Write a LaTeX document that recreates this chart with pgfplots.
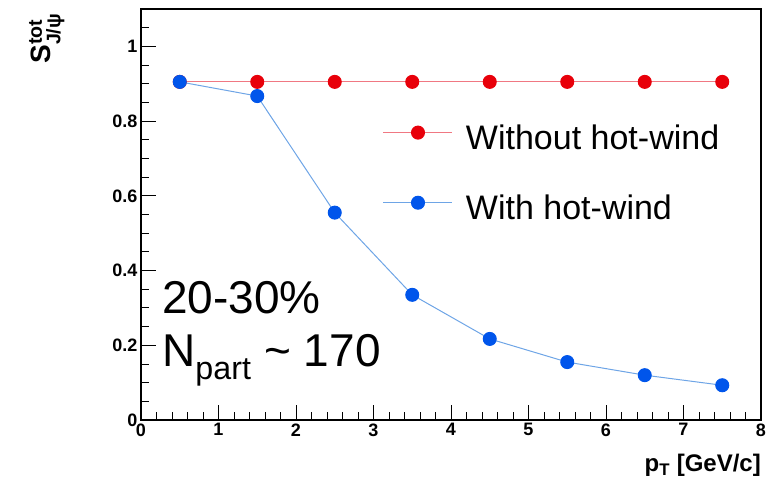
\documentclass[border=0pt]{standalone}
\usepackage{fontspec}
\setmainfont{Liberation Sans}
\usepackage{amsmath}
\usepackage{pgfplots}
\pgfplotsset{compat=1.18}
\definecolor{rmark}{RGB}{232,0,10}
\definecolor{rline}{RGB}{240,120,130}
\definecolor{bmark}{RGB}{0,85,235}
\definecolor{bline}{RGB}{110,165,230}
\begin{document}
\begin{tikzpicture}
\useasboundingbox (-141pt,-79pt) rectangle (633pt,420pt);
\begin{axis}[
  at={(0,0)}, anchor=south west,
  scale only axis, width=620pt, height=411pt,
  xmin=0, xmax=8, ymin=0, ymax=1.1,
  xtick={0,1,2,3,4,5,6,7,8},
  ytick={0,0.2,0.4,0.6,0.8,1},
  minor x tick num=4,
  minor ytick={0.05,0.1,0.15,0.25,0.3,0.35,0.45,0.5,0.55,0.65,0.7,0.75,0.85,0.9,0.95,1.05},
  tick align=inside,
  xtick pos=bottom, ytick pos=left,
  major tick length=15pt, minor tick length=8pt,
  axis line style={line width=1.2pt},
  every tick/.style={black, line width=0.9pt},
  tick label style={font=\bfseries\fontsize{18}{18}\selectfont},
  /pgf/number format/assume math mode=true,
  yticklabel style={/pgf/number format/fixed},
  xlabel={\textbf{p\textsubscript{T} [GeV/c]}},
  xlabel style={at={(axis description cs:1,0)}, anchor=north east, yshift=-34pt, inner sep=0pt, font=\fontsize{24}{26}\selectfont},
  ylabel={\textbf{S$^{\text{\bfseries tot}}_{\text{\bfseries J/ψ}}$}},
  ylabel style={at={(axis description cs:-0.152,0.99)}, anchor=east, inner sep=0pt, font=\fontsize{28}{30}\selectfont},
  legend style={at={(axis cs:3.12,0.79)}, anchor=north west, draw=none, fill=none, inner sep=0pt,
    nodes={inner sep=0pt, text depth=0.15em},
    font=\fontsize{34}{40}\selectfont, row sep=44pt},
  legend cell align=left,
  legend image code/.code={%
    \draw[mark repeat=2,mark phase=2] plot coordinates {(0pt,5.5pt) (34.5pt,5.5pt) (69pt,5.5pt)};
    \path (82pt,5.5pt);},
]
\addplot[rline, line width=1pt, mark=*, mark size=6.5pt, mark options={draw=rmark, fill=rmark}]
  coordinates {(0.5,0.905) (1.5,0.905) (2.5,0.905) (3.5,0.905) (4.5,0.905) (5.5,0.905) (6.5,0.905) (7.5,0.905)};
\addlegendentry{Without hot-wind}
\addplot[bline, line width=1pt, mark=*, mark size=6.5pt, mark options={draw=bmark, fill=bmark}]
  coordinates {(0.5,0.905) (1.5,0.867) (2.5,0.555) (3.5,0.335) (4.5,0.217) (5.5,0.155) (6.5,0.120) (7.5,0.093)};
\addlegendentry{With hot-wind}
\node[anchor=base west, inner sep=0pt, font=\fontsize{46}{50}\selectfont] at (axis description cs:0.034,0.26) {20-30\%};
\node[anchor=base west, inner sep=0pt, font=\fontsize{46}{50}\selectfont] at (axis description cs:0.034,0.129) {N\textsubscript{part} \textasciitilde{} 170};
\end{axis}
\end{tikzpicture}
\end{document}
